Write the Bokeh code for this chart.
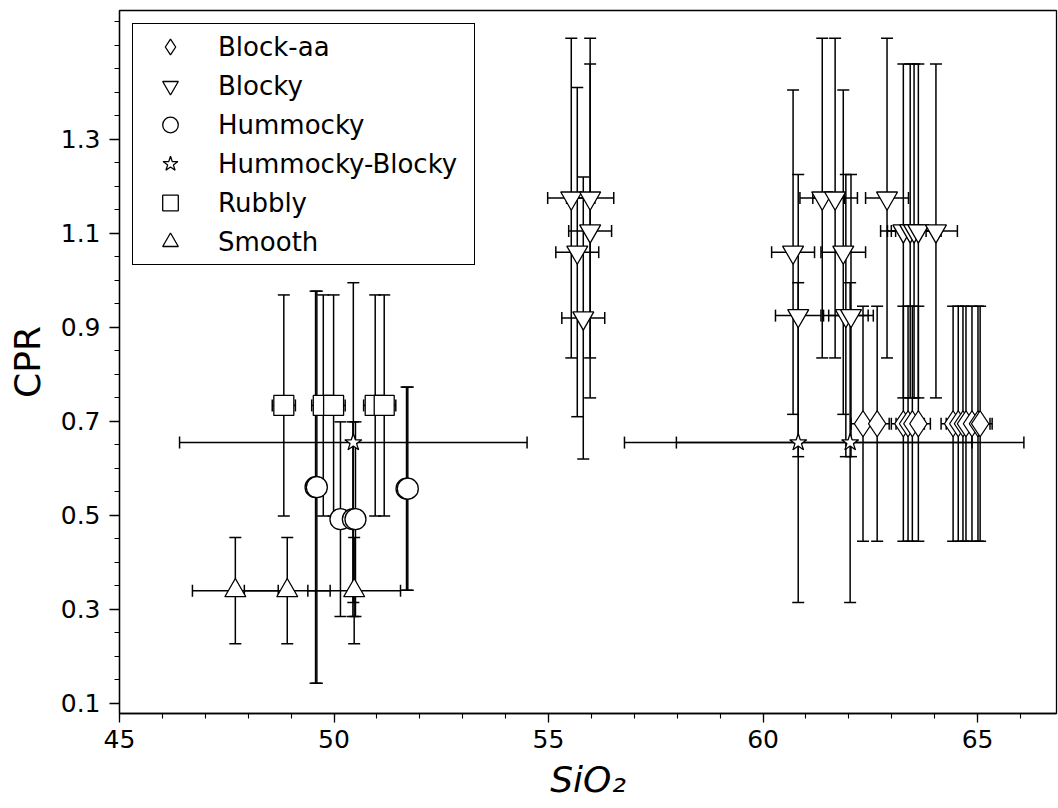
import numpy as np
from bokeh.plotting import figure
from bokeh.models import (ColumnDataSource, Whisker, TeeHead, Legend, LegendItem,
                          FixedTicker, Range1d)
from bokeh.embed import file_html
from bokeh.resources import INLINE

# ---------------- data ----------------
categories = ["Block-aa", "Blocky", "Hummocky", "Hummocky-Blocky", "Rubbly", "Smooth"]

blockaa_x = [62.33, 62.66, 63.27, 63.38, 63.48, 63.62, 64.43, 64.55, 64.66, 64.73, 64.87, 65.01, 65.06]
blockaa_y = [0.695, 0.695, 0.695, 0.695, 0.695, 0.695, 0.695, 0.695, 0.695, 0.695, 0.695, 0.695, 0.695]
blockaa_xerr = [0.28, 0.28, 0.28, 0.28, 0.28, 0.28, 0.28, 0.28, 0.28, 0.28, 0.28, 0.28, 0.28]
blockaa_yerr = [0.25, 0.25, 0.25, 0.25, 0.25, 0.25, 0.25, 0.25, 0.25, 0.25, 0.25, 0.25, 0.25]

blocky_x = [55.53, 55.97, 55.97, 55.67, 55.81, 60.70, 60.82, 61.38, 61.68, 61.87,
            61.93, 62.05, 62.89, 63.27, 63.43, 63.52, 63.62, 64.03]
blocky_y = [1.175, 1.175, 1.105, 1.06, 0.92, 1.06, 0.925, 1.175, 1.175, 1.06,
            0.925, 0.925, 1.175, 1.105, 1.105, 1.105, 1.105, 1.105]
blocky_xerr = [0.55, 0.55, 0.50, 0.50, 0.50, 0.50, 0.53, 0.52, 0.52, 0.52,
               0.52, 0.52, 0.50, 0.53, 0.53, 0.53, 0.53, 0.50]
blocky_yerr = [0.34, 0.34, 0.355, 0.35, 0.30, 0.345, 0.30, 0.34, 0.34, 0.345,
               0.30, 0.30, 0.34, 0.355, 0.355, 0.355, 0.355, 0.355]

hummocky_x = [49.57, 49.60, 50.15, 50.44, 50.50, 51.69, 51.72]
hummocky_y = [0.56, 0.56, 0.492, 0.492, 0.492, 0.557, 0.557]
hummocky_xerr = [0.15, 0.15, 0.15, 0.15, 0.15, 0.15, 0.15]
hummocky_yerr = [0.417, 0.417, 0.207, 0.207, 0.207, 0.216, 0.216]

hblocky_x = [50.45, 60.82, 62.03]
hblocky_y = [0.655, 0.655, 0.655]
hblocky_xerr = [4.05, 4.05, 4.05]
hblocky_yerr = [0.34, 0.34, 0.34]

rubbly_x = [48.83, 49.75, 49.99, 50.96, 51.17]
rubbly_y = [0.734, 0.734, 0.734, 0.734, 0.734]
rubbly_xerr = [0.27, 0.27, 0.27, 0.27, 0.27]
rubbly_yerr = [0.235, 0.235, 0.235, 0.235, 0.235]

smooth_x = [47.70, 48.91, 50.47]
smooth_y = [0.34, 0.34, 0.34]
smooth_xerr = [1.0, 1.0, 1.08]
smooth_yerr = [0.113, 0.113, 0.113]

x_ticks = [45, 50, 55, 60, 65]
y_ticks = [0.1, 0.3, 0.5, 0.7, 0.9, 1.1, 1.3]

series = [
    (blockaa_x, blockaa_y, blockaa_xerr, blockaa_yerr),
    (blocky_x, blocky_y, blocky_xerr, blocky_yerr),
    (hummocky_x, hummocky_y, hummocky_xerr, hummocky_yerr),
    (hblocky_x, hblocky_y, hblocky_xerr, hblocky_yerr),
    (rubbly_x, rubbly_y, rubbly_xerr, rubbly_yerr),
    (smooth_x, smooth_y, smooth_xerr, smooth_yerr),
]

# ---------------- styling ----------------
marker_types = ["diamond", "inverted_triangle", "circle", "star", "square", "triangle"]
marker_sizes = [26, 21, 21, 18, 20, 21]
FONT = "DejaVu Sans"

p = figure(width=1058, height=808,
           x_range=Range1d(45, 66.84), y_range=Range1d(0.0787, 1.574),
           output_backend="svg", toolbar_location=None,
           min_border_left=119, min_border_right=2, min_border_top=10,
           min_border_bottom=95)
p.background_fill_color = "white"
p.border_fill_color = "white"
p.outline_line_color = "black"
p.outline_line_width = 1.3
p.outline_line_alpha = 1.0
p.grid.visible = False

legend_items = []
for cat, (xs, ys, xe, ye), mk, ms in zip(categories, series, marker_types, marker_sizes):
    xs = np.array(xs, dtype=float)
    ys = np.array(ys, dtype=float)
    xe = np.array(xe, dtype=float)
    ye = np.array(ye, dtype=float)
    src = ColumnDataSource(dict(x=xs, y=ys, xl=xs - xe, xu=xs + xe, yl=ys - ye, yu=ys + ye))
    for dim, base, lo, up in (("height", "x", "yl", "yu"), ("width", "y", "xl", "xu")):
        w = Whisker(source=src, base=base, lower=lo, upper=up, dimension=dim,
                    line_color="black", line_width=1.5, level="underlay",
                    lower_head=TeeHead(size=12, line_color="black", line_width=1.5),
                    upper_head=TeeHead(size=12, line_color="black", line_width=1.5))
        p.add_layout(w)
    r = p.scatter(x="x", y="y", source=src, marker=mk, size=ms,
                  fill_color="white", line_color="black", line_width=1.3)
    legend_items.append(LegendItem(label=cat, renderers=[r]))

legend = Legend(items=legend_items, location="top_left", margin=13,
                padding=3, spacing=0, glyph_height=39, glyph_width=68,
                label_standoff=14, label_width=253, label_height=30,
                label_text_font=FONT, label_text_font_size="26px",
                label_text_color="black",
                border_line_color="black", border_line_width=1.6,
                border_line_alpha=1.0,
                background_fill_color="white", background_fill_alpha=1.0)
p.add_layout(legend)

# axes
p.xaxis.ticker = FixedTicker(ticks=x_ticks, minor_ticks=list(range(45, 67)))
p.yaxis.ticker = FixedTicker(ticks=y_ticks,
                             minor_ticks=[round(0.1 + 0.05 * i, 3) for i in range(30)])
for ax in (p.xaxis, p.yaxis):
    ax.axis_line_color = "black"
    ax.axis_line_width = 1.3
    ax.major_tick_line_color = "black"
    ax.minor_tick_line_color = "black"
    ax.major_tick_line_width = 1.3
    ax.minor_tick_line_width = 1.1
    ax.major_tick_in = 0
    ax.minor_tick_in = 0
    ax.minor_tick_out = 5
    ax.major_label_text_font = FONT
    ax.major_label_text_font_size = "25px"
    ax.major_label_text_color = "black"
    ax.axis_label_text_font = FONT
    ax.axis_label_text_font_size = "36px"
    ax.axis_label_text_color = "black"

p.xaxis.major_tick_out = 9
p.xaxis.major_label_standoff = 7
p.xaxis.axis_label_standoff = 8
p.yaxis.major_tick_out = 10
p.yaxis.major_label_standoff = 9
p.yaxis.axis_label_standoff = 10

p.xaxis.axis_label = "SiO₂"
p.xaxis.axis_label_text_font_style = "italic"
p.yaxis.axis_label = "CPR"
p.yaxis.axis_label_text_font_style = "normal"

open("out.html", "w").write(file_html(p, INLINE))
